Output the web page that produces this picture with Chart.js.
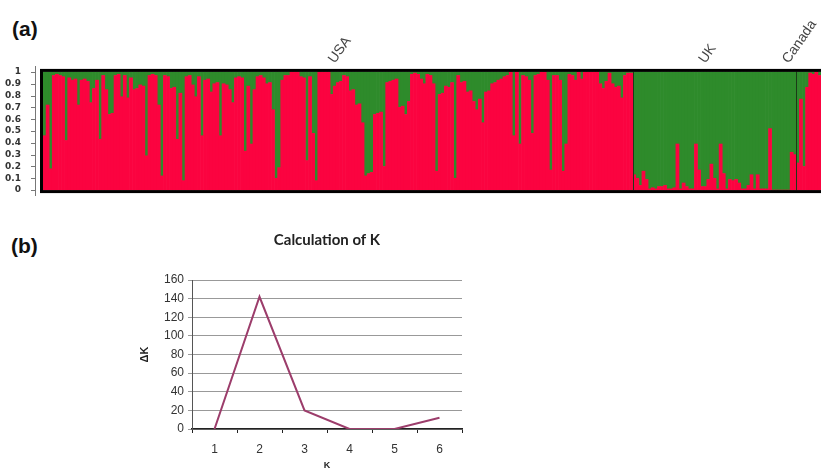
<!DOCTYPE html>
<html>
<head>
<meta charset="utf-8">
<script src="https://cdn.jsdelivr.net/npm/chart.js@4/dist/chart.umd.min.js"></script>
<style>
  html, body { margin: 0; padding: 0; background: #fff; }
  body { position: relative; width: 821px; height: 471px; overflow: hidden; font-family: 'Liberation Sans', Arial, sans-serif; }
  .panel { position: absolute; font-weight: bold; font-size: 21px; color: #111; }
  #structure { position: absolute; left: 0; top: 0; }
  #deltaK { position: absolute; left: 120px; top: 225px; }
</style>
</head>
<body>
<div class="panel" style="left:12px; top:17px;">(a)</div>
<div class="panel" style="left:11px; top:234px;">(b)</div>
<canvas id="structure" width="821" height="205"></canvas>
<canvas id="deltaK" width="416" height="246"></canvas>
<script>
// red-cluster membership (q) per individual, left to right
const usaRed = [
  0.46, 0.72, 0.18, 0.97, 0.98, 0.97, 0.96, 0.42, 0.95, 0.93, 0.94, 0.72, 0.93, 0.94, 0.92, 0.74,
  0.86, 0.93, 0.43, 0.97, 0.85, 0.64, 0.65, 0.97, 0.98, 0.79, 0.97, 0.78, 0.95, 0.85, 0.86, 0.89,
  0.88, 0.29, 0.97, 0.98, 0.97, 0.72, 0.12, 0.97, 0.96, 0.86, 0.87, 0.43, 0.82, 0.08, 0.96, 0.97,
  0.89, 0.79, 0.96, 0.46, 0.93, 0.94, 0.83, 0.9, 0.91, 0.46, 0.9, 0.89, 0.85, 0.74, 0.95, 0.96,
  0.95, 0.33, 0.88, 0.39, 0.85, 0.96, 0.97, 0.95, 0.9, 0.91, 0.68, 0.1,
  0.19, 0.93, 0.97, 0.97, 1, 1, 1, 0.96, 0.95, 0.25, 0.96, 0.48, 0.08, 1, 1, 1,
  1, 0.81, 0.88, 0.91, 0.92, 0.97, 0.96, 0.84, 0.85, 0.72, 0.73, 0.57, 0.12, 0.14, 0.15, 0.64,
  0.65, 0.66, 0.2, 0.91, 0.92, 0.93, 0.94, 0.7, 0.71, 0.64, 0.75, 0.98, 0.99, 0.98, 0.94, 0.9,
  0.98, 0.97, 0.9, 0.16, 0.81, 0.82, 0.88, 0.87, 0.91, 0.1, 0.97, 0.91, 0.92, 0.83, 0.84, 0.75,
  0.68, 0.77, 0.57, 0.83, 0.84, 0.9, 0.91, 0.93, 0.94, 0.96, 0.97, 1, 0.46, 1, 0.39, 0.97,
  0.96, 0.93, 0.48, 0.97, 0.98, 1, 1, 0.93, 0.17, 0.97,
  0.97, 0.93, 0.16, 0.39, 0.98, 0.97, 0.93, 1, 0.94, 1, 1, 1, 1, 1, 0.9, 0.86,
  0.92, 0.99, 0.9, 0.87, 0.88, 0.78, 0.97, 0.99, 0.99
];
const ukRed = [
  0.13, 0.1, 0.04, 0.16, 0.09, 0.01, 0.02, 0.01, 0.03, 0.03, 0.04, 0.01, 0.01, 0.02, 0.39, 0.01,
  0.06, 0.03, 0.01, 0.01, 0.39, 0.17, 0.03, 0.03, 0.09, 0.22, 0.1, 0.01, 0.39, 0.14, 0.01, 0.09,
  0.08, 0.09, 0.06, 0.01, 0.01, 0.04, 0.13, 0.01, 0.13, 0.01, 0.01, 0.01, 0.52, 0, 0, 0,
  0, 0, 0, 0.32, 0.3
];
const canadaRed = [0.23, 0.77, 0.2, 0.87, 0.99, 0.98, 1, 0.97];

const siteNames = ['USA', 'UK', 'Canada'];
const siteLabelAt = [93, 213, 240];
const qTicks = [0, 0.1, 0.2, 0.3, 0.4, 0.5, 0.6, 0.7, 0.8, 0.9, 1];

// panel (b)
const kValues = ['1', '2', '3', '4', '5', '6'];
const deltaK = [0, 142, 20, 0, 0, 12];

const RED = '#fb0340';
const GREEN = '#2e8b2b';
const LINE = '#9c3d6b';

Chart.defaults.font.family = "'Liberation Sans', Arial, sans-serif";

const redQ = usaRed.concat(ukRed, canadaRed);
const groupStarts = [0, usaRed.length, usaRed.length + ukRed.length];

const structureFrame = {
  id: 'structureFrame',
  afterDatasetsDraw(chart) {
    const { ctx, chartArea, scales: { x, y } } = chart;
    const top = y.getPixelForValue(1), bottom = y.getPixelForValue(0);
    ctx.save();
    // grey axis with tick marks, set a little apart from the box
    const axisX = chartArea.left - 7.5;
    ctx.strokeStyle = '#777';
    ctx.lineWidth = 1;
    ctx.beginPath();
    ctx.moveTo(axisX, chartArea.top);
    ctx.lineTo(axisX, chartArea.bottom);
    qTicks.forEach(v => {
      const py = Math.round(y.getPixelForValue(v)) + 0.5;
      ctx.moveTo(axisX - 4.5, py);
      ctx.lineTo(axisX, py);
    });
    ctx.stroke();
    // thin lines between sampling sites
    ctx.strokeStyle = '#1c3a18';
    groupStarts.slice(1).forEach(i => {
      const px = Math.round(x.getPixelForValue(i) - x.width / redQ.length / 2) + 0.5;
      ctx.beginPath();
      ctx.moveTo(px, top);
      ctx.lineTo(px, bottom);
      ctx.stroke();
    });
    // heavy black box round the bars
    const left = chartArea.left - 1.5;
    ctx.strokeStyle = '#000';
    ctx.lineWidth = 3;
    ctx.strokeRect(left, top - 1.5, chartArea.right + 10 - left, bottom - top + 3);
    // site names
    ctx.fillStyle = '#444';
    ctx.font = '14px "Liberation Sans", Arial, sans-serif';
    ctx.textAlign = 'left';
    ctx.textBaseline = 'middle';
    siteNames.forEach((name, k) => {
      ctx.save();
      ctx.translate(x.getPixelForValue(siteLabelAt[k]), top - 10);
      ctx.rotate(-55 * Math.PI / 180);
      ctx.fillText(name, 0, 0);
      ctx.restore();
    });
    ctx.restore();
  }
};

new Chart(document.getElementById('structure'), {
  type: 'bar',
  data: {
    labels: redQ.map((q, i) => i + 1),
    datasets: [
      { label: 'Cluster 1', data: redQ, backgroundColor: RED },
      { label: 'Cluster 2', data: redQ.map(q => 1 - q), backgroundColor: GREEN }
    ]
  },
  options: {
    responsive: false,
    animation: false,
    layout: { padding: { top: 66, bottom: 9, left: 0, right: 0 } },
    datasets: { bar: { barPercentage: 1, categoryPercentage: 1, borderWidth: 0 } },
    plugins: { legend: { display: false }, tooltip: { enabled: false } },
    scales: {
      x: { stacked: true, display: false, offset: true },
      y: {
        stacked: true,
        min: -0.05,
        max: 1.05,
        afterFit(s) { s.width = 43; s.paddingTop = 0; s.paddingBottom = 0; },
        afterBuildTicks(s) { s.ticks = qTicks.map(v => ({ value: v })); },
        grid: { display: false },
        border: { display: false },
        ticks: {
          autoSkip: false,
          padding: 14,
          color: '#333',
          font: { size: 9, weight: 'bold', family: "'DejaVu Sans', sans-serif" },
          callback: v => (v === 0 || v === 1) ? String(v) : v.toFixed(1)
        }
      }
    }
  },
  plugins: [structureFrame]
});

new Chart(document.getElementById('deltaK'), {
  type: 'line',
  data: {
    labels: kValues,
    datasets: [{
      label: 'ΔK',
      data: deltaK,
      borderColor: LINE,
      borderWidth: 2,
      pointRadius: 0,
      tension: 0
    }]
  },
  options: {
    responsive: false,
    animation: false,
    layout: { padding: { top: 0, bottom: 0, left: 0, right: 74 } },
    plugins: {
      legend: { display: false },
      tooltip: { enabled: false },
      title: {
        display: true,
        fullSize: false,
        text: 'Calculation of K',
        color: '#222',
        font: { size: 15, weight: 'bold', family: 'Lato, sans-serif' },
        padding: { top: 6, bottom: 31 }
      }
    },
    scales: {
      x: {
        offset: true,
        afterFit(s) { s.height = 42; },
        grid: { offset: true, drawOnChartArea: false, tickLength: 4, color: '#222' },
        border: { color: '#222', width: 1.5 },
        ticks: { padding: 9, color: '#333', font: { size: 12 } },
        title: { display: true, text: 'K', color: '#222', font: { size: 9, weight: 'bold' }, padding: { top: 0, bottom: 0 } }
      },
      y: {
        min: 0,
        max: 160,
        afterFit(s) { s.width = 72; },
        ticks: { stepSize: 20, padding: 4, color: '#333', font: { size: 12 } },
        grid: { color: '#999', tickLength: 4 },
        border: { color: '#555' },
        title: { display: true, text: 'ΔK', color: '#222', font: { size: 11, weight: 'bold' }, padding: { top: 18, bottom: 0 } }
      }
    }
  }
});
</script>
</body>
</html>
